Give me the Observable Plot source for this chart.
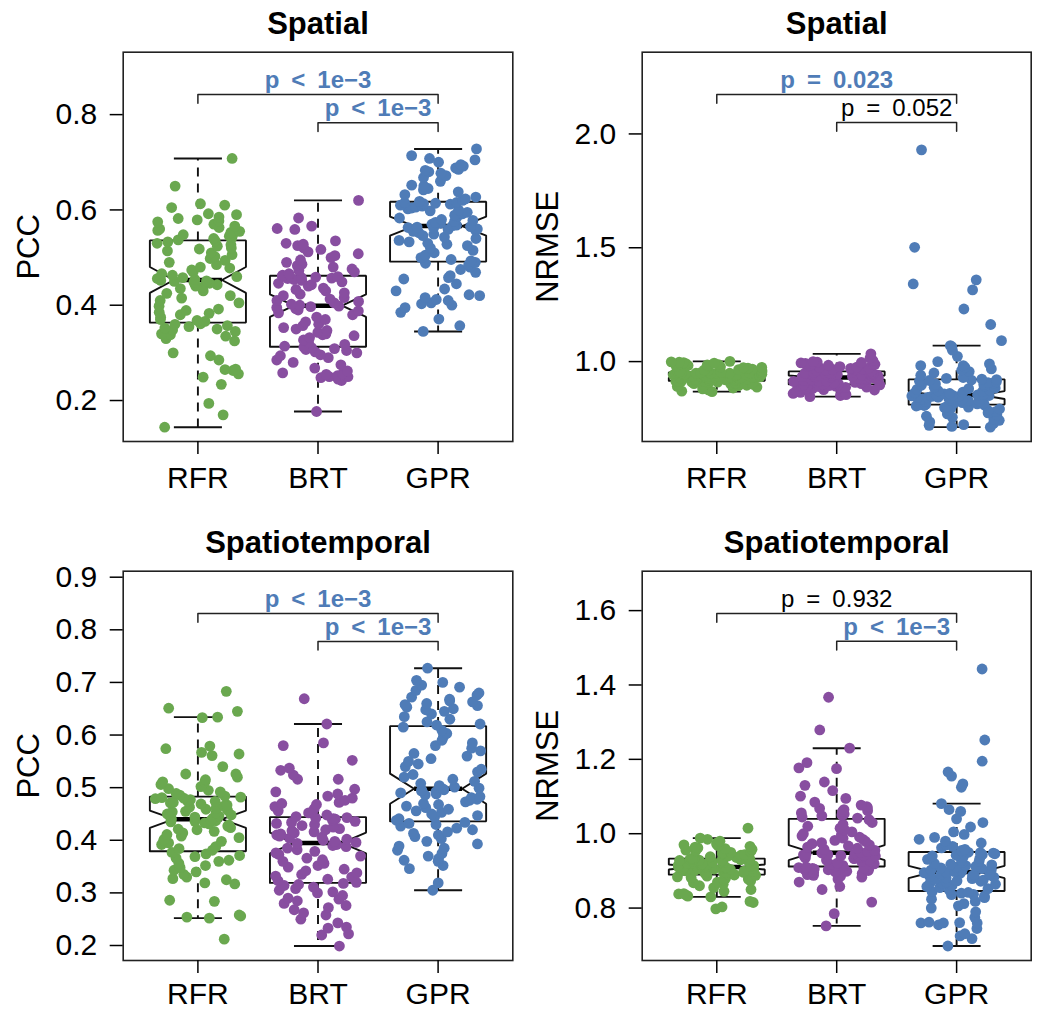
<!DOCTYPE html>
<html><head><meta charset="utf-8">
<script src="https://cdn.jsdelivr.net/npm/d3@7"></script>
<script src="https://cdn.jsdelivr.net/npm/@observablehq/plot@0.6"></script>
<style>
body{margin:0;background:#fff;}
#wrap{position:relative;width:1037px;height:1010px;overflow:hidden;background:#fff;}
#wrap svg{position:absolute;}
</style></head><body><div id="wrap"></div>
<script>
// ---------------- data ----------------
const categories = ["RFR", "BRT", "GPR"];
const groupColors = ["#6AA84F", "#884EA0", "#4F7CB7"];

const spatialPccRFR = [
0.144,0.170,0.194,0.234,0.249,0.256,0.263,0.265,0.266,0.285,0.294,0.300,0.325,0.330,0.335,0.338,0.340,0.345,0.348,0.350,0.352,0.355,0.357,0.360,0.361,
0.366,0.368,0.370,0.375,0.380,0.383,0.385,0.389,0.392,0.398,0.405,0.410,0.415,0.420,0.425,0.430,0.435,0.438,0.440,0.443,0.446,0.448,0.450,0.451,0.452,
0.454,0.456,0.458,0.460,0.463,0.466,0.470,0.474,0.478,0.480,0.485,0.490,0.494,0.498,0.502,0.506,0.510,0.514,0.518,0.520,0.524,0.527,0.530,0.533,0.535,
0.537,0.540,0.542,0.545,0.548,0.550,0.553,0.555,0.557,0.560,0.563,0.566,0.570,0.575,0.577,0.579,0.582,0.585,0.590,0.592,0.605,0.610,0.613,0.650,0.708];
const spatialPccBRT = [
0.177,0.242,0.245,0.248,0.250,0.250,0.252,0.255,0.256,0.258,0.262,0.268,0.275,0.280,0.285,0.290,0.294,0.296,0.300,0.302,0.305,0.307,0.309,0.311,0.312,
0.314,0.318,0.322,0.327,0.332,0.336,0.338,0.340,0.343,0.347,0.350,0.353,0.357,0.360,0.365,0.370,0.375,0.380,0.384,0.388,0.390,0.393,0.395,0.397,0.398,
0.400,0.402,0.405,0.408,0.410,0.413,0.416,0.420,0.423,0.426,0.430,0.433,0.436,0.440,0.443,0.446,0.449,0.452,0.454,0.456,0.457,0.458,0.459,0.460,0.461,
0.463,0.466,0.470,0.473,0.476,0.480,0.483,0.486,0.490,0.495,0.500,0.504,0.508,0.512,0.517,0.520,0.525,0.528,0.530,0.535,0.559,0.561,0.566,0.583,0.620];
const spatialPccGPR = [
0.345,0.357,0.371,0.385,0.395,0.400,0.403,0.405,0.410,0.412,0.416,0.420,0.422,0.430,0.434,0.445,0.455,0.458,0.462,0.469,0.475,0.480,0.485,0.488,0.490,
0.493,0.496,0.500,0.505,0.510,0.515,0.520,0.525,0.528,0.530,0.533,0.536,0.540,0.543,0.546,0.549,0.552,0.555,0.557,0.559,0.560,0.562,0.563,0.564,0.565,
0.567,0.568,0.570,0.572,0.574,0.576,0.578,0.580,0.583,0.586,0.589,0.592,0.595,0.598,0.600,0.602,0.604,0.606,0.608,0.610,0.612,0.613,0.614,0.615,0.616,
0.618,0.620,0.623,0.627,0.632,0.638,0.642,0.645,0.650,0.652,0.660,0.668,0.672,0.677,0.680,0.683,0.685,0.688,0.692,0.695,0.700,0.705,0.708,0.714,0.728];

const spatialNrmseRFR = [
0.868,0.870,0.875,0.880,0.884,0.888,0.891,0.894,0.896,0.898,0.900,0.902,0.903,0.904,0.905,0.906,0.907,0.908,0.909,0.910,0.911,0.912,0.913,0.914,0.915,
0.917,0.918,0.919,0.920,0.921,0.921,0.922,0.923,0.924,0.925,0.925,0.926,0.927,0.928,0.928,0.929,0.930,0.930,0.931,0.931,0.932,0.932,0.933,0.933,0.934,
0.935,0.935,0.936,0.937,0.938,0.938,0.939,0.940,0.941,0.941,0.942,0.943,0.944,0.944,0.945,0.946,0.947,0.947,0.948,0.949,0.949,0.950,0.950,0.951,0.951,
0.953,0.955,0.957,0.959,0.961,0.963,0.965,0.967,0.969,0.971,0.973,0.975,0.977,0.979,0.981,0.983,0.985,0.987,0.989,0.991,0.993,0.995,0.997,0.999,1.001];
const spatialNrmseBRT = [
0.846,0.851,0.855,0.860,0.865,0.869,0.872,0.875,0.877,0.879,0.881,0.883,0.885,0.887,0.888,0.890,0.891,0.892,0.893,0.894,0.895,0.896,0.897,0.898,0.899,
0.901,0.902,0.903,0.905,0.906,0.907,0.909,0.910,0.911,0.913,0.914,0.915,0.916,0.918,0.919,0.920,0.921,0.922,0.923,0.924,0.925,0.926,0.927,0.928,0.929,
0.931,0.932,0.933,0.934,0.935,0.936,0.937,0.938,0.939,0.940,0.941,0.942,0.943,0.944,0.945,0.946,0.947,0.948,0.949,0.950,0.951,0.952,0.953,0.954,0.956,
0.958,0.960,0.962,0.964,0.966,0.968,0.970,0.972,0.974,0.976,0.978,0.980,0.982,0.984,0.986,0.988,0.990,0.992,0.994,0.996,0.998,1.000,1.005,1.015,1.034];
const spatialNrmseGPR = [
0.712,0.715,0.720,0.723,0.728,0.735,0.742,0.748,0.755,0.760,0.765,0.770,0.775,0.780,0.784,0.788,0.792,0.795,0.798,0.800,0.803,0.805,0.807,0.809,0.810,
0.812,0.814,0.816,0.818,0.820,0.822,0.824,0.826,0.828,0.830,0.832,0.834,0.836,0.838,0.840,0.842,0.843,0.844,0.845,0.846,0.847,0.848,0.849,0.851,0.852,
0.854,0.856,0.858,0.860,0.863,0.866,0.869,0.872,0.875,0.878,0.881,0.884,0.887,0.890,0.893,0.896,0.899,0.902,0.905,0.908,0.911,0.914,0.917,0.919,0.921,
0.923,0.926,0.930,0.940,0.950,0.956,0.962,0.968,0.975,0.982,0.982,0.990,1.000,1.023,1.050,1.066,1.070,1.092,1.163,1.231,1.315,1.341,1.359,1.502,1.930];

const stPccRFR = [
0.212,0.252,0.254,0.256,0.258,0.284,0.286,0.317,0.319,0.325,0.327,0.330,0.335,0.340,0.343,0.348,0.352,0.356,0.360,0.362,0.366,0.369,0.371,0.374,0.377,
0.381,0.384,0.388,0.392,0.395,0.398,0.400,0.402,0.405,0.408,0.411,0.414,0.417,0.420,0.421,0.424,0.427,0.429,0.431,0.433,0.435,0.436,0.437,0.438,0.439,
0.441,0.442,0.444,0.446,0.448,0.450,0.452,0.454,0.455,0.457,0.459,0.461,0.463,0.465,0.467,0.469,0.471,0.472,0.474,0.475,0.477,0.479,0.480,0.481,0.482,
0.484,0.486,0.489,0.492,0.495,0.498,0.502,0.506,0.511,0.511,0.515,0.520,0.526,0.526,0.540,0.561,0.564,0.567,0.574,0.579,0.633,0.634,0.645,0.651,0.683];
const stPccBRT = [
0.199,0.220,0.222,0.233,0.235,0.243,0.250,0.258,0.262,0.268,0.272,0.276,0.280,0.285,0.288,0.290,0.295,0.300,0.302,0.305,0.308,0.311,0.314,0.316,0.318,
0.320,0.323,0.326,0.330,0.332,0.335,0.338,0.342,0.345,0.349,0.352,0.356,0.360,0.363,0.366,0.370,0.373,0.376,0.379,0.382,0.385,0.388,0.390,0.392,0.394,
0.396,0.398,0.400,0.402,0.404,0.406,0.408,0.410,0.412,0.414,0.416,0.418,0.420,0.422,0.425,0.428,0.430,0.432,0.434,0.436,0.438,0.440,0.441,0.442,0.443,
0.445,0.448,0.452,0.456,0.460,0.464,0.468,0.470,0.472,0.476,0.480,0.484,0.488,0.492,0.497,0.516,0.516,0.524,0.533,0.537,0.552,0.580,0.585,0.621,0.669];
const stPccGPR = [
0.305,0.319,0.346,0.352,0.360,0.362,0.365,0.370,0.375,0.381,0.385,0.389,0.393,0.398,0.403,0.407,0.410,0.413,0.416,0.420,0.423,0.427,0.430,0.432,0.434,
0.438,0.441,0.444,0.447,0.450,0.453,0.456,0.459,0.462,0.465,0.468,0.470,0.473,0.476,0.478,0.481,0.483,0.486,0.488,0.490,0.492,0.494,0.495,0.496,0.497,
0.499,0.501,0.504,0.508,0.512,0.516,0.520,0.525,0.530,0.535,0.540,0.545,0.550,0.555,0.560,0.565,0.570,0.575,0.580,0.585,0.590,0.597,0.603,0.609,0.615,
0.619,0.621,0.625,0.630,0.635,0.640,0.645,0.648,0.650,0.653,0.656,0.658,0.660,0.663,0.665,0.668,0.672,0.676,0.680,0.685,0.691,0.695,0.700,0.704,0.727];

const stNrmseRFR = [
0.798,0.803,0.815,0.818,0.830,0.832,0.835,0.838,0.839,0.845,0.850,0.855,0.860,0.864,0.868,0.870,0.873,0.876,0.878,0.880,0.882,0.884,0.886,0.888,0.889,
0.891,0.892,0.893,0.894,0.895,0.896,0.897,0.898,0.899,0.900,0.901,0.902,0.903,0.904,0.904,0.905,0.905,0.906,0.907,0.907,0.908,0.908,0.909,0.909,0.910,
0.911,0.912,0.913,0.914,0.915,0.916,0.917,0.918,0.919,0.920,0.921,0.922,0.923,0.924,0.925,0.926,0.927,0.928,0.929,0.929,0.930,0.931,0.931,0.932,0.932,
0.934,0.936,0.938,0.940,0.942,0.944,0.946,0.948,0.950,0.952,0.954,0.956,0.958,0.960,0.962,0.964,0.966,0.968,0.970,0.972,0.975,0.980,0.985,0.988,1.015];
const stNrmseBRT = [
0.752,0.785,0.816,0.850,0.858,0.870,0.878,0.883,0.886,0.888,0.890,0.893,0.895,0.897,0.899,0.901,0.903,0.904,0.905,0.906,0.907,0.908,0.909,0.910,0.911,
0.913,0.915,0.917,0.919,0.921,0.923,0.925,0.927,0.929,0.931,0.933,0.934,0.935,0.936,0.937,0.938,0.939,0.940,0.941,0.942,0.943,0.944,0.945,0.946,0.948,
0.950,0.952,0.955,0.958,0.961,0.964,0.967,0.970,0.973,0.976,0.979,0.982,0.985,0.988,0.991,0.994,0.997,1.000,1.005,1.010,1.015,1.020,1.025,1.030,1.038,
1.042,1.045,1.048,1.050,1.053,1.056,1.060,1.062,1.065,1.068,1.070,1.073,1.077,1.085,1.095,1.101,1.116,1.130,1.139,1.175,1.177,1.191,1.230,1.279,1.367];
const stNrmseGPR = [
0.698,0.718,0.725,0.731,0.745,0.755,0.760,0.760,0.760,0.761,0.762,0.775,0.790,0.800,0.806,0.812,0.818,0.824,0.828,0.832,0.836,0.837,0.840,0.842,0.844,
0.848,0.852,0.855,0.858,0.861,0.864,0.866,0.868,0.870,0.872,0.873,0.875,0.877,0.879,0.881,0.883,0.885,0.887,0.889,0.890,0.891,0.892,0.894,0.895,0.896,
0.898,0.900,0.902,0.904,0.906,0.908,0.910,0.912,0.914,0.916,0.918,0.920,0.922,0.925,0.928,0.931,0.934,0.937,0.940,0.942,0.944,0.946,0.948,0.949,0.950,
0.952,0.955,0.958,0.962,0.966,0.970,0.975,0.980,0.985,0.990,0.998,1.005,1.018,1.030,1.040,1.060,1.065,1.081,1.125,1.134,1.155,1.166,1.195,1.252,1.443];

const ticksSpatialPcc = [0.2, 0.4, 0.6, 0.8];
const ticksSpatialNrmse = [1.0, 1.5, 2.0];
const ticksStPcc = [0.2, 0.3, 0.4, 0.5, 0.6, 0.7, 0.8, 0.9];
const ticksStNrmse = [0.8, 1.0, 1.2, 1.4, 1.6];

const panelTitles = ["Spatial", "Spatial", "Spatiotemporal", "Spatiotemporal"];
const yLabels = ["PCC", "NRMSE", "PCC", "NRMSE"];
// p-values: [RFR vs GPR, BRT vs GPR]
const pSpatialPcc = ["p < 1e−3", "p < 1e−3"];
const pSpatialNrmse = ["p = 0.023", "p = 0.052"];
const pStPcc = ["p < 1e−3", "p < 1e−3"];
const pStNrmse = ["p = 0.932", "p < 1e−3"];

// ---------------- layout ----------------
const panels = [
  {groups: [spatialPccRFR, spatialPccBRT, spatialPccGPR], ticks: ticksSpatialPcc, p: pSpatialPcc,
   left: 0, top: 0, width: 518, mt: 51.7, mb: 64, ml: 122.7, mr: 5.7, domain: [0.114, 0.931], br: [0.842, 0.783], jit: 0.35, xpad: 12},
  {groups: [spatialNrmseRFR, spatialNrmseBRT, spatialNrmseGPR], ticks: ticksSpatialNrmse, p: pSpatialNrmse,
   left: 518, top: 0, width: 519, mt: 51.7, mb: 64, ml: 123.7, mr: 6.3, domain: [0.649, 2.359], br: [2.173, 2.050], jit: 0.38, xpad: 12},
  {groups: [stPccRFR, stPccBRT, stPccGPR], ticks: ticksStPcc, p: pStPcc,
   left: 0, top: 505, width: 518, mt: 65.7, mb: 50, ml: 122.7, mr: 5.7, domain: [0.1715, 0.9114], br: [0.831, 0.778], jit: 0.36, xpad: 9},
  {groups: [stNrmseRFR, stNrmseBRT, stNrmseGPR], ticks: ticksStNrmse, p: pStNrmse,
   left: 518, top: 505, width: 519, mt: 65.7, mb: 50, ml: 123.7, mr: 6.3, domain: [0.659, 1.706], br: [1.592, 1.5175], jit: 0.33, xpad: 9}
];

const FONT = "'Liberation Sans', Arial, Helvetica, sans-serif";
const BLUE = "#4F7CB7";
const WID = 0.4, NOTCH = 0.5, STAPLE = 0.5;

function boxStats(vals) {
  const s = vals.slice().sort((a, b) => a - b), n = s.length;
  const q = d => 0.5 * (s[Math.floor(d) - 1] + s[Math.ceil(d) - 1]);
  const n4 = Math.floor((n + 3) / 2) / 2;
  const lo = q(n4), med = q((n + 1) / 2), hi = q(n + 1 - n4);
  const iqr = hi - lo;
  const wLo = d3.min(s.filter(v => v >= lo - 1.5 * iqr));
  const wHi = d3.max(s.filter(v => v <= hi + 1.5 * iqr));
  const c = 1.58 * iqr / Math.sqrt(n);
  return {lo, med, hi, wLo, wHi, cLo: med - c, cHi: med + c};
}
// deterministic hash used only for the horizontal jitter of the points
const hash = (a, b) => { const t = Math.sin(a * 127.1 + b * 311.7) * 43758.5453; return t - Math.floor(t); };

const wrap = document.getElementById("wrap");

panels.forEach((P, pi) => {
  const height = 505;
  const plotH = height - P.mt - P.mb;
  const span = P.domain[1] - P.domain[0];
  const leg = 8.7 * span / plotH;

  const boxPts = [], whisk = [], staples = [], meds = [];
  P.groups.forEach((vals, gi) => {
    const k = gi + 1, st = boxStats(vals);
    const shape = [[-1, st.lo], [1, st.lo], [1, st.cLo], [NOTCH, st.med], [1, st.cHi], [1, st.hi],
                   [-1, st.hi], [-1, st.cHi], [-NOTCH, st.med], [-1, st.cLo], [-1, st.lo]];
    shape.forEach(([dx, y]) => boxPts.push({g: gi, x: k + WID * dx, y}));
    whisk.push({x: k, a: st.hi, b: st.wHi}, {x: k, a: st.lo, b: st.wLo});
    staples.push({x1: k - STAPLE * WID, x2: k + STAPLE * WID, y: st.wHi}, {x1: k - STAPLE * WID, x2: k + STAPLE * WID, y: st.wLo});
    meds.push({x1: k - NOTCH * WID, x2: k + NOTCH * WID, y: st.med});
  });

  const marks = [];
  marks.push(Plot.line(boxPts, {x: "x", y: "y", z: "g", stroke: "#111", strokeWidth: 1.9, strokeLinejoin: "miter"}));
  marks.push(Plot.link(whisk, {x1: "x", x2: "x", y1: "a", y2: "b", stroke: "#111", strokeWidth: 1.9, strokeDasharray: "9,7"}));
  marks.push(Plot.link(staples, {x1: "x1", x2: "x2", y1: "y", y2: "y", stroke: "#111", strokeWidth: 1.9}));
  marks.push(Plot.link(meds, {x1: "x1", x2: "x2", y1: "y", y2: "y", stroke: "#000", strokeWidth: 4.5}));

  P.groups.forEach((vals, gi) => {
    const pts = vals.map((v, i) => ({x: gi + 1 + (hash(i + 1, gi + 3 * pi + 1) - 0.5) * 2 * P.jit, y: v}));
    marks.push(Plot.dot(pts, {x: "x", y: "y", r: 5.4, fill: groupColors[gi], stroke: null}));
  });

  // significance brackets: [RFR-GPR], [BRT-GPR]
  const pairs = [[1, 3], [2, 3]];
  pairs.forEach(([a, b], j) => {
    const y = P.br[j];
    const pts = [{x: a, y: y - leg}, {x: a, y}, {x: b, y}, {x: b, y: y - leg}];
    marks.push(Plot.line(pts, {x: "x", y: "y", stroke: "#222", strokeWidth: 1.5}));
    const label = P.p[j];
    const val = label.includes("<") ? 0 : +label.split("=")[1];
    const sig = val < 0.05;
    marks.push(Plot.text([label.replace(/ /g, "\u2002")], {
      x: (a + b) / 2, y, text: d => d, dy: -6.5, lineAnchor: "bottom", textAnchor: "middle",
      fontSize: 24, fontWeight: sig ? "bold" : "normal", fill: sig ? BLUE : "#000"
    }));
  });

  marks.push(Plot.frame({stroke: "#222", strokeWidth: 1.6}));
  marks.push(Plot.axisY({ticks: P.ticks, tickFormat: d3.format(".1f"), tickSize: 13, tickPadding: 13,
    fontSize: 30, strokeWidth: 1.5, label: null}));
  marks.push(Plot.axisX({ticks: [1, 2, 3], tickFormat: d => categories[d - 1], tickSize: 13, tickPadding: P.xpad,
    fontSize: 30, strokeWidth: 1.5, label: null}));
  marks.push(Plot.text([panelTitles[pi]], {frameAnchor: "top", text: d => d, dy: -18, lineAnchor: "bottom",
    fontSize: 31, fontWeight: "bold"}));
  marks.push(Plot.text([yLabels[pi]], {frameAnchor: "left", text: d => d, dx: -94, rotate: -90,
    textAnchor: "middle", lineAnchor: "middle", fontSize: 31}));

  const svg = Plot.plot({
    width: P.width, height,
    marginTop: P.mt, marginBottom: P.mb, marginLeft: P.ml, marginRight: P.mr,
    x: {type: "linear", domain: [0.378, 3.622]},
    y: {type: "linear", domain: P.domain},
    style: {fontFamily: FONT, fontSize: "30px", color: "#000", background: "transparent", overflow: "visible"},
    marks
  });
  svg.style.left = P.left + "px";
  svg.style.top = P.top + "px";
  svg.style.maxWidth = "none";
  wrap.appendChild(svg);
});
</script></body></html>
